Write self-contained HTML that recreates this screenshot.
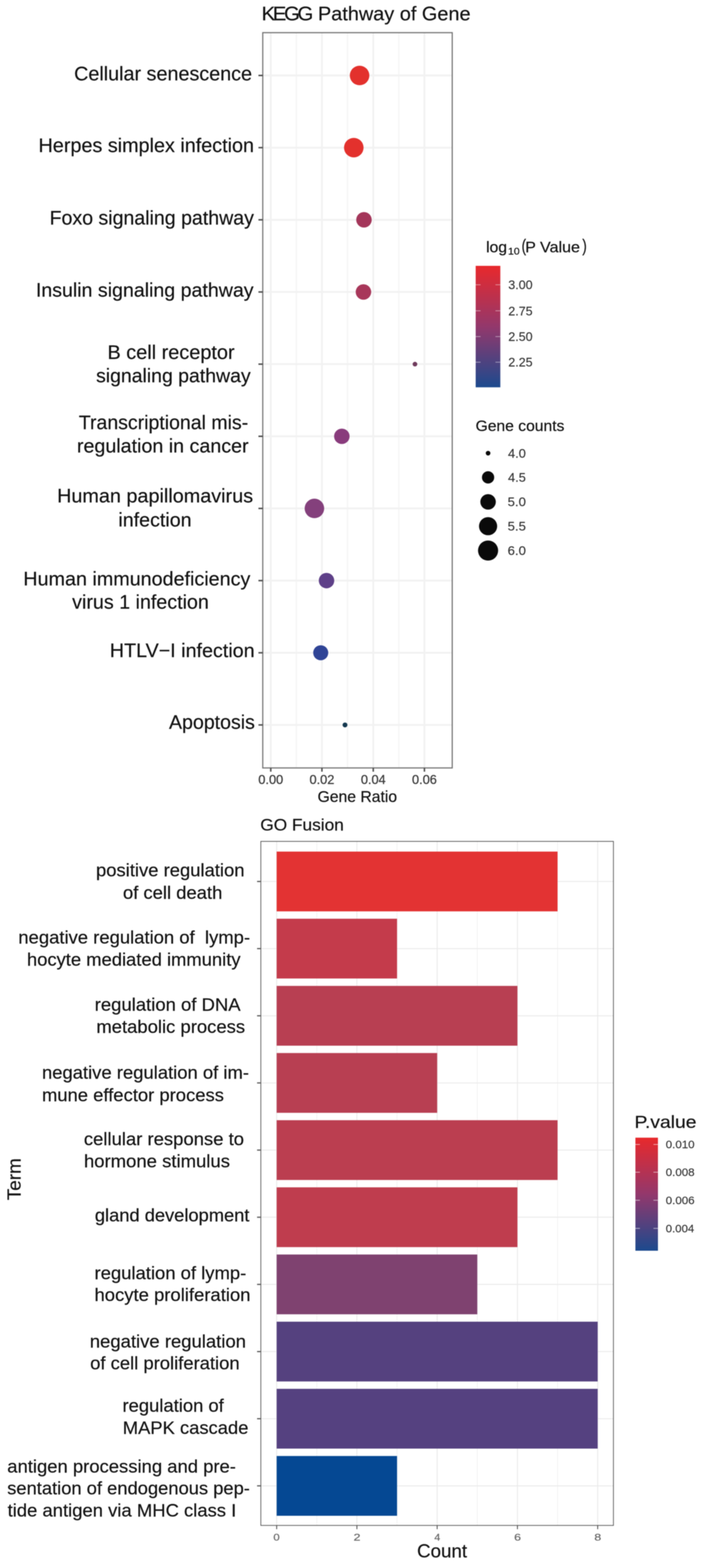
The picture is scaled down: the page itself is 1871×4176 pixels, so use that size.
<!DOCTYPE html>
<html lang="en">
<head>
<meta charset="utf-8">
<title>KEGG Pathway of Gene / GO Fusion</title>
<style>
html, body { margin: 0; padding: 0; background: #ffffff; }
body { width: 1871px; height: 4176px; overflow: hidden; }
svg { display: block; font-family: "Liberation Sans", sans-serif; filter: blur(0.85px); }
svg text { white-space: pre; stroke: #121212; stroke-width: 0.45px; paint-order: stroke; }
</style>
</head>
<body>
<svg width="1871" height="4176" viewBox="0 0 1871 4176">
<rect x="0" y="0" width="1871" height="4176" fill="#ffffff"/>
<g id="kegg">
<rect x="699.3" y="87.0" width="504.3" height="1958.2" fill="#fff"/>
<line x1="788.7" y1="87.0" x2="788.7" y2="2045.2" stroke="#f5f5f5" stroke-width="3.6"/>
<line x1="925.1" y1="87.0" x2="925.1" y2="2045.2" stroke="#f5f5f5" stroke-width="3.6"/>
<line x1="1061.5" y1="87.0" x2="1061.5" y2="2045.2" stroke="#f5f5f5" stroke-width="3.6"/>
<line x1="720.6" y1="87.0" x2="720.6" y2="2045.2" stroke="#f2f2f2" stroke-width="5"/>
<line x1="856.8" y1="87.0" x2="856.8" y2="2045.2" stroke="#f2f2f2" stroke-width="5"/>
<line x1="993.4" y1="87.0" x2="993.4" y2="2045.2" stroke="#f2f2f2" stroke-width="5"/>
<line x1="1129.6" y1="87.0" x2="1129.6" y2="2045.2" stroke="#f2f2f2" stroke-width="5"/>
<line x1="699.3" y1="201.0" x2="1203.6" y2="201.0" stroke="#f2f2f2" stroke-width="5"/>
<line x1="699.3" y1="393.2" x2="1203.6" y2="393.2" stroke="#f2f2f2" stroke-width="5"/>
<line x1="699.3" y1="585.4" x2="1203.6" y2="585.4" stroke="#f2f2f2" stroke-width="5"/>
<line x1="699.3" y1="777.6" x2="1203.6" y2="777.6" stroke="#f2f2f2" stroke-width="5"/>
<line x1="699.3" y1="969.8" x2="1203.6" y2="969.8" stroke="#f2f2f2" stroke-width="5"/>
<line x1="699.3" y1="1162.0" x2="1203.6" y2="1162.0" stroke="#f2f2f2" stroke-width="5"/>
<line x1="699.3" y1="1354.1" x2="1203.6" y2="1354.1" stroke="#f2f2f2" stroke-width="5"/>
<line x1="699.3" y1="1546.3" x2="1203.6" y2="1546.3" stroke="#f2f2f2" stroke-width="5"/>
<line x1="699.3" y1="1738.5" x2="1203.6" y2="1738.5" stroke="#f2f2f2" stroke-width="5"/>
<line x1="699.3" y1="1930.7" x2="1203.6" y2="1930.7" stroke="#f2f2f2" stroke-width="5"/>
<circle cx="957.0" cy="201.0" r="26.0" fill="#e3312d"/>
<circle cx="941.6" cy="393.2" r="26.0" fill="#e3312d"/>
<circle cx="968.7" cy="585.4" r="20.6" fill="#a4365a"/>
<circle cx="967.3" cy="777.6" r="20.6" fill="#a8375a"/>
<circle cx="1104.4" cy="969.8" r="6.2" fill="#6f3a5c"/>
<circle cx="909.8" cy="1162.0" r="20.6" fill="#893b7c"/>
<circle cx="836.8" cy="1354.1" r="26.0" fill="#84407c"/>
<circle cx="869.0" cy="1546.3" r="20.6" fill="#5e4088"/>
<circle cx="853.6" cy="1738.5" r="20.0" fill="#2f4496"/>
<circle cx="918.2" cy="1930.7" r="6.5" fill="#14384f"/>
<rect x="699.3" y="87.0" width="504.3" height="1958.2" fill="none" stroke="#757575" stroke-width="3.1"/>
<line x1="687.8" y1="201.0" x2="699.3" y2="201.0" stroke="#4f4f4f" stroke-width="4"/>
<line x1="687.8" y1="393.2" x2="699.3" y2="393.2" stroke="#4f4f4f" stroke-width="4"/>
<line x1="687.8" y1="585.4" x2="699.3" y2="585.4" stroke="#4f4f4f" stroke-width="4"/>
<line x1="687.8" y1="777.6" x2="699.3" y2="777.6" stroke="#4f4f4f" stroke-width="4"/>
<line x1="687.8" y1="969.8" x2="699.3" y2="969.8" stroke="#4f4f4f" stroke-width="4"/>
<line x1="687.8" y1="1162.0" x2="699.3" y2="1162.0" stroke="#4f4f4f" stroke-width="4"/>
<line x1="687.8" y1="1354.1" x2="699.3" y2="1354.1" stroke="#4f4f4f" stroke-width="4"/>
<line x1="687.8" y1="1546.3" x2="699.3" y2="1546.3" stroke="#4f4f4f" stroke-width="4"/>
<line x1="687.8" y1="1738.5" x2="699.3" y2="1738.5" stroke="#4f4f4f" stroke-width="4"/>
<line x1="687.8" y1="1930.7" x2="699.3" y2="1930.7" stroke="#4f4f4f" stroke-width="4"/>
<line x1="720.6" y1="2045.2" x2="720.6" y2="2055.2" stroke="#4f4f4f" stroke-width="4"/>
<line x1="856.8" y1="2045.2" x2="856.8" y2="2055.2" stroke="#4f4f4f" stroke-width="4"/>
<line x1="993.4" y1="2045.2" x2="993.4" y2="2055.2" stroke="#4f4f4f" stroke-width="4"/>
<line x1="1129.6" y1="2045.2" x2="1129.6" y2="2055.2" stroke="#4f4f4f" stroke-width="4"/>
<text transform="translate(720.60,2087.6) scale(0.9582,1)" font-size="35.4" text-anchor="middle" fill="#3c3c3c" style="stroke:#3c3c3c;stroke-width:0.6px">0.00</text>
<text transform="translate(856.80,2087.6) scale(0.9582,1)" font-size="35.4" text-anchor="middle" fill="#3c3c3c" style="stroke:#3c3c3c;stroke-width:0.6px">0.02</text>
<text transform="translate(993.40,2087.6) scale(0.9582,1)" font-size="35.4" text-anchor="middle" fill="#3c3c3c" style="stroke:#3c3c3c;stroke-width:0.6px">0.04</text>
<text transform="translate(1129.60,2087.6) scale(0.9582,1)" font-size="35.4" text-anchor="middle" fill="#3c3c3c" style="stroke:#3c3c3c;stroke-width:0.6px">0.06</text>
<text transform="translate(845.25,2135.60) scale(0.9729,1)" font-size="43.0" fill="#121212" >Gene Ratio</text>
<text transform="translate(696.13,54.00) scale(1.0419,1)" font-size="52.0" fill="#121212" letter-spacing="-6">KEGG</text>
<text transform="translate(846.23,54.00) scale(1.0181,1)" font-size="52.0" fill="#121212" >Pathway of Gene</text>
<text transform="translate(197.20,213.80) scale(1.0000,1)" font-size="52.6" fill="#121212" >Cellular senescence</text>
<text transform="translate(102.60,405.30) scale(1.0011,1)" font-size="52.6" fill="#121212" >Herpes simplex infection</text>
<text transform="translate(131.94,597.60) scale(0.9894,1)" font-size="52.6" fill="#121212" >Foxo signaling pathway</text>
<text transform="translate(95.45,789.70) scale(0.9909,1)" font-size="52.6" fill="#121212" >Insulin signaling pathway</text>
<text transform="translate(285.97,955.80) scale(1.0069,1)" font-size="52.6" fill="#121212" >B cell receptor</text>
<text transform="translate(255.63,1018.10) scale(0.9841,1)" font-size="52.6" fill="#121212" >signaling pathway</text>
<text transform="translate(209.81,1142.90) scale(0.9863,1)" font-size="52.6" fill="#121212" >Transcriptional mis-</text>
<text transform="translate(204.71,1205.30) scale(0.9956,1)" font-size="52.6" fill="#121212" >regulation in cancer</text>
<text transform="translate(151.89,1338.30) scale(1.0029,1)" font-size="52.6" fill="#121212" >Human papillomavirus</text>
<text transform="translate(315.12,1402.20) scale(0.9942,1)" font-size="52.6" fill="#121212" >infection</text>
<text transform="translate(62.10,1558.60) scale(0.9988,1)" font-size="52.6" fill="#121212" >Human immunodeficiency</text>
<text transform="translate(192.10,1621.00) scale(0.9953,1)" font-size="52.6" fill="#121212" >virus 1 infection</text>
<text transform="translate(292.31,1749.60) scale(0.9976,1)" font-size="52.6" fill="#121212" >HTLV−I infection</text>
<text transform="translate(449.80,1941.10) scale(0.9895,1)" font-size="52.6" fill="#121212" >Apoptosis</text>
<defs><linearGradient id="g1" x1="0" y1="0" x2="0" y2="1"><stop offset="0" stop-color="#e8292c"/><stop offset="0.5" stop-color="#93386c"/><stop offset="1" stop-color="#1c4a8e"/></linearGradient><linearGradient id="g2" x1="0" y1="0" x2="0" y2="1"><stop offset="0" stop-color="#e8292c"/><stop offset="0.5" stop-color="#93386c"/><stop offset="1" stop-color="#1c4a8e"/></linearGradient></defs>
<text transform="translate(1293.81,671.50) scale(1.0292,1)" font-size="40.5" fill="#121212" >log</text>
<text transform="translate(1351.92,678.30) scale(1.0920,1)" font-size="25.5" fill="#121212" >10</text>
<text transform="translate(1388.22,670.00) scale(0.7583,1)" font-size="47.0" fill="#121212" >(</text>
<text transform="translate(1397.73,671.50) scale(1.0556,1)" font-size="40.5" fill="#121212" >P Value</text>
<text transform="translate(1549.84,670.00) scale(0.7583,1)" font-size="47.0" fill="#121212" >)</text>
<rect x="1266.0" y="708.0" width="65.6" height="323.5" fill="url(#g1)"/>
<line x1="1266.0" y1="758.4" x2="1279.0" y2="758.4" stroke="#fff" stroke-opacity="0.5" stroke-width="2"/>
<line x1="1318.6" y1="758.4" x2="1331.6" y2="758.4" stroke="#fff" stroke-opacity="0.5" stroke-width="2"/>
<text transform="translate(1352.82,770.20) scale(0.9844,1)" font-size="33.8" fill="#333333" style="stroke:#333333;stroke-width:0.3px">3.00</text>
<line x1="1266.0" y1="827.7" x2="1279.0" y2="827.7" stroke="#fff" stroke-opacity="0.5" stroke-width="2"/>
<line x1="1318.6" y1="827.7" x2="1331.6" y2="827.7" stroke="#fff" stroke-opacity="0.5" stroke-width="2"/>
<text transform="translate(1352.82,839.50) scale(0.9844,1)" font-size="33.8" fill="#333333" style="stroke:#333333;stroke-width:0.3px">2.75</text>
<line x1="1266.0" y1="896.4" x2="1279.0" y2="896.4" stroke="#fff" stroke-opacity="0.5" stroke-width="2"/>
<line x1="1318.6" y1="896.4" x2="1331.6" y2="896.4" stroke="#fff" stroke-opacity="0.5" stroke-width="2"/>
<text transform="translate(1352.82,908.20) scale(0.9844,1)" font-size="33.8" fill="#333333" style="stroke:#333333;stroke-width:0.3px">2.50</text>
<line x1="1266.0" y1="964.6" x2="1279.0" y2="964.6" stroke="#fff" stroke-opacity="0.5" stroke-width="2"/>
<line x1="1318.6" y1="964.6" x2="1331.6" y2="964.6" stroke="#fff" stroke-opacity="0.5" stroke-width="2"/>
<text transform="translate(1352.82,976.40) scale(0.9844,1)" font-size="33.8" fill="#333333" style="stroke:#333333;stroke-width:0.3px">2.25</text>
<text transform="translate(1265.79,1148.00) scale(1.0043,1)" font-size="41.5" fill="#121212" >Gene counts</text>
<circle cx="1299" cy="1207.0" r="6.2" fill="#0a0a0a"/>
<text transform="translate(1351.99,1218.80) scale(1.0133,1)" font-size="33.8" fill="#333333" style="stroke:#333333;stroke-width:0.3px">4.0</text>
<circle cx="1299" cy="1271.4" r="16.3" fill="#0a0a0a"/>
<text transform="translate(1351.99,1283.20) scale(1.0133,1)" font-size="33.8" fill="#333333" style="stroke:#333333;stroke-width:0.3px">4.5</text>
<circle cx="1299" cy="1336.6" r="20.6" fill="#0a0a0a"/>
<text transform="translate(1350.93,1348.40) scale(1.0364,1)" font-size="33.8" fill="#333333" style="stroke:#333333;stroke-width:0.3px">5.0</text>
<circle cx="1299" cy="1401.4" r="24.2" fill="#0a0a0a"/>
<text transform="translate(1350.93,1413.20) scale(1.0364,1)" font-size="33.8" fill="#333333" style="stroke:#333333;stroke-width:0.3px">5.5</text>
<circle cx="1299" cy="1466.2" r="26.8" fill="#0a0a0a"/>
<text transform="translate(1350.93,1478.00) scale(1.0364,1)" font-size="33.8" fill="#333333" style="stroke:#333333;stroke-width:0.3px">6.0</text>
</g>
<g id="go">
<rect x="694.2" y="2240.8" width="938.4" height="1821.8" fill="#fff"/>
<line x1="843.1" y1="2240.8" x2="843.1" y2="4062.6" stroke="#efefef" stroke-width="1.6"/>
<line x1="1056.7" y1="2240.8" x2="1056.7" y2="4062.6" stroke="#efefef" stroke-width="1.6"/>
<line x1="1270.3" y1="2240.8" x2="1270.3" y2="4062.6" stroke="#efefef" stroke-width="1.6"/>
<line x1="1483.9" y1="2240.8" x2="1483.9" y2="4062.6" stroke="#efefef" stroke-width="1.6"/>
<line x1="736.3" y1="2240.8" x2="736.3" y2="4062.6" stroke="#eaeaea" stroke-width="2.4"/>
<line x1="949.9" y1="2240.8" x2="949.9" y2="4062.6" stroke="#eaeaea" stroke-width="2.4"/>
<line x1="1163.5" y1="2240.8" x2="1163.5" y2="4062.6" stroke="#eaeaea" stroke-width="2.4"/>
<line x1="1377.1" y1="2240.8" x2="1377.1" y2="4062.6" stroke="#eaeaea" stroke-width="2.4"/>
<line x1="1590.7" y1="2240.8" x2="1590.7" y2="4062.6" stroke="#eaeaea" stroke-width="2.4"/>
<line x1="694.2" y1="2347.6" x2="1632.6" y2="2347.6" stroke="#eaeaea" stroke-width="2.4"/>
<line x1="694.2" y1="2526.4" x2="1632.6" y2="2526.4" stroke="#eaeaea" stroke-width="2.4"/>
<line x1="694.2" y1="2705.3" x2="1632.6" y2="2705.3" stroke="#eaeaea" stroke-width="2.4"/>
<line x1="694.2" y1="2884.1" x2="1632.6" y2="2884.1" stroke="#eaeaea" stroke-width="2.4"/>
<line x1="694.2" y1="3063.0" x2="1632.6" y2="3063.0" stroke="#eaeaea" stroke-width="2.4"/>
<line x1="694.2" y1="3241.8" x2="1632.6" y2="3241.8" stroke="#eaeaea" stroke-width="2.4"/>
<line x1="694.2" y1="3420.7" x2="1632.6" y2="3420.7" stroke="#eaeaea" stroke-width="2.4"/>
<line x1="694.2" y1="3599.6" x2="1632.6" y2="3599.6" stroke="#eaeaea" stroke-width="2.4"/>
<line x1="694.2" y1="3778.4" x2="1632.6" y2="3778.4" stroke="#eaeaea" stroke-width="2.4"/>
<line x1="694.2" y1="3957.2" x2="1632.6" y2="3957.2" stroke="#eaeaea" stroke-width="2.4"/>
<rect x="736.3" y="2268.0" width="747.6" height="159.2" fill="#e33333"/>
<rect x="736.3" y="2446.8" width="320.4" height="159.2" fill="#c43b4b"/>
<rect x="736.3" y="2625.7" width="640.8" height="159.2" fill="#b83f52"/>
<rect x="736.3" y="2804.5" width="427.2" height="159.2" fill="#b83f52"/>
<rect x="736.3" y="2983.4" width="747.6" height="159.2" fill="#bb3e50"/>
<rect x="736.3" y="3162.2" width="640.8" height="159.2" fill="#bf3d4e"/>
<rect x="736.3" y="3341.1" width="534.0" height="159.2" fill="#7f4270"/>
<rect x="736.3" y="3520.0" width="854.4" height="159.2" fill="#55417f"/>
<rect x="736.3" y="3698.8" width="854.4" height="159.2" fill="#554180"/>
<rect x="736.3" y="3877.7" width="320.4" height="159.2" fill="#054893"/>
<rect x="694.2" y="2240.8" width="938.4" height="1821.8" fill="none" stroke="#4c4c4c" stroke-width="1.9"/>
<line x1="684.2" y1="2347.6" x2="694.2" y2="2347.6" stroke="#5a5a5a" stroke-width="3.2"/>
<line x1="684.2" y1="2526.4" x2="694.2" y2="2526.4" stroke="#5a5a5a" stroke-width="3.2"/>
<line x1="684.2" y1="2705.3" x2="694.2" y2="2705.3" stroke="#5a5a5a" stroke-width="3.2"/>
<line x1="684.2" y1="2884.1" x2="694.2" y2="2884.1" stroke="#5a5a5a" stroke-width="3.2"/>
<line x1="684.2" y1="3063.0" x2="694.2" y2="3063.0" stroke="#5a5a5a" stroke-width="3.2"/>
<line x1="684.2" y1="3241.8" x2="694.2" y2="3241.8" stroke="#5a5a5a" stroke-width="3.2"/>
<line x1="684.2" y1="3420.7" x2="694.2" y2="3420.7" stroke="#5a5a5a" stroke-width="3.2"/>
<line x1="684.2" y1="3599.6" x2="694.2" y2="3599.6" stroke="#5a5a5a" stroke-width="3.2"/>
<line x1="684.2" y1="3778.4" x2="694.2" y2="3778.4" stroke="#5a5a5a" stroke-width="3.2"/>
<line x1="684.2" y1="3957.2" x2="694.2" y2="3957.2" stroke="#5a5a5a" stroke-width="3.2"/>
<line x1="736.3" y1="4062.6" x2="736.3" y2="4072.6" stroke="#4f4f4f" stroke-width="2.4"/>
<text transform="translate(727.53,4103.00) scale(1.1692,1)" font-size="26.0" fill="#666666" style="stroke:#666666;stroke-width:0.4px">0</text>
<line x1="949.9" y1="4062.6" x2="949.9" y2="4072.6" stroke="#4f4f4f" stroke-width="2.4"/>
<text transform="translate(941.03,4103.00) scale(1.2667,1)" font-size="26.0" fill="#666666" style="stroke:#666666;stroke-width:0.4px">2</text>
<line x1="1163.5" y1="4062.6" x2="1163.5" y2="4072.6" stroke="#4f4f4f" stroke-width="2.4"/>
<text transform="translate(1155.90,4103.00) scale(1.0857,1)" font-size="26.0" fill="#666666" style="stroke:#666666;stroke-width:0.4px">4</text>
<line x1="1377.1" y1="4062.6" x2="1377.1" y2="4072.6" stroke="#4f4f4f" stroke-width="2.4"/>
<text transform="translate(1368.23,4103.00) scale(1.2667,1)" font-size="26.0" fill="#666666" style="stroke:#666666;stroke-width:0.4px">6</text>
<line x1="1590.7" y1="4062.6" x2="1590.7" y2="4072.6" stroke="#4f4f4f" stroke-width="2.4"/>
<text transform="translate(1581.83,4103.00) scale(1.2667,1)" font-size="26.0" fill="#666666" style="stroke:#666666;stroke-width:0.4px">8</text>
<text transform="translate(1109.98,4148.00) scale(1.0078,1)" font-size="49.5" fill="#121212" >Count</text>
<text transform="translate(692.71,2212.00) scale(1.0452,1)" font-size="44.0" fill="#121212" >GO Fusion</text>
<text transform="translate(55.20,3196.41) rotate(-90) scale(1.0132,1)" font-size="49.7" fill="#121212" >Term</text>
<text transform="translate(255.50,2334.30) scale(1.0348,1)" font-size="47.4" fill="#121212" >positive regulation</text>
<text transform="translate(327.23,2393.60) scale(1.0351,1)" font-size="47.4" fill="#121212" >of cell death</text>
<text transform="translate(48.79,2512.60) scale(1.0358,1)" font-size="47.4" fill="#121212" >negative regulation of  lymp-</text>
<text transform="translate(71.70,2571.90) scale(1.0329,1)" font-size="47.4" fill="#121212" >hocyte mediated immunity</text>
<text transform="translate(252.09,2691.80) scale(1.0383,1)" font-size="47.4" fill="#121212" >regulation of DNA</text>
<text transform="translate(256.39,2750.80) scale(1.0369,1)" font-size="47.4" fill="#121212" >metabolic process</text>
<text transform="translate(111.69,2873.40) scale(1.0353,1)" font-size="47.4" fill="#121212" >negative regulation of im-</text>
<text transform="translate(111.70,2932.60) scale(1.0348,1)" font-size="47.4" fill="#121212" >mune effector process</text>
<text transform="translate(223.13,3049.50) scale(1.0373,1)" font-size="47.4" fill="#121212" >cellular response to</text>
<text transform="translate(223.38,3108.60) scale(1.0393,1)" font-size="47.4" fill="#121212" >hormone stimulus</text>
<text transform="translate(252.55,3253.40) scale(1.0271,1)" font-size="47.4" fill="#121212" >gland development</text>
<text transform="translate(251.59,3407.10) scale(1.0361,1)" font-size="47.4" fill="#121212" >regulation of lymp-</text>
<text transform="translate(251.49,3465.40) scale(1.0371,1)" font-size="47.4" fill="#121212" >hocyte proliferation</text>
<text transform="translate(238.99,3588.80) scale(1.0380,1)" font-size="47.4" fill="#121212" >negative regulation</text>
<text transform="translate(240.03,3647.30) scale(1.0342,1)" font-size="47.4" fill="#121212" >of cell proliferation</text>
<text transform="translate(326.00,3760.20) scale(1.0341,1)" font-size="47.4" fill="#121212" >regulation of</text>
<text transform="translate(326.67,3818.90) scale(1.0327,1)" font-size="47.4" fill="#121212" >MAPK cascade</text>
<text transform="translate(19.33,3921.80) scale(1.0360,1)" font-size="47.4" fill="#121212" >antigen processing and pre-</text>
<text transform="translate(19.14,3980.20) scale(1.0300,1)" font-size="47.4" fill="#121212" >sentation of endogenous pep-</text>
<text transform="translate(20.16,4039.10) scale(1.0364,1)" font-size="47.4" fill="#121212" >tide antigen via MHC class I</text>
<text transform="translate(1688.82,3004.00) scale(1.0938,1)" font-size="47.0" fill="#121212" >P.value</text>
<rect x="1691.1" y="3029.9" width="60.0" height="301.1" fill="url(#g2)"/>
<line x1="1691.1" y1="3048.0" x2="1703.1" y2="3048.0" stroke="#fff" stroke-opacity="0.62" stroke-width="2"/>
<line x1="1739.1" y1="3048.0" x2="1751.1" y2="3048.0" stroke="#fff" stroke-opacity="0.62" stroke-width="2"/>
<text transform="translate(1771.78,3058.00) scale(1.0247,1)" font-size="30.0" fill="#333333" style="stroke:#333333;stroke-width:0.3px">0.010</text>
<line x1="1691.1" y1="3121.9" x2="1703.1" y2="3121.9" stroke="#fff" stroke-opacity="0.62" stroke-width="2"/>
<line x1="1739.1" y1="3121.9" x2="1751.1" y2="3121.9" stroke="#fff" stroke-opacity="0.62" stroke-width="2"/>
<text transform="translate(1771.78,3131.90) scale(1.0247,1)" font-size="30.0" fill="#333333" style="stroke:#333333;stroke-width:0.3px">0.008</text>
<line x1="1691.1" y1="3196.6" x2="1703.1" y2="3196.6" stroke="#fff" stroke-opacity="0.62" stroke-width="2"/>
<line x1="1739.1" y1="3196.6" x2="1751.1" y2="3196.6" stroke="#fff" stroke-opacity="0.62" stroke-width="2"/>
<text transform="translate(1771.78,3206.60) scale(1.0247,1)" font-size="30.0" fill="#333333" style="stroke:#333333;stroke-width:0.3px">0.006</text>
<line x1="1691.1" y1="3271.5" x2="1703.1" y2="3271.5" stroke="#fff" stroke-opacity="0.62" stroke-width="2"/>
<line x1="1739.1" y1="3271.5" x2="1751.1" y2="3271.5" stroke="#fff" stroke-opacity="0.62" stroke-width="2"/>
<text transform="translate(1771.79,3281.50) scale(1.0108,1)" font-size="30.0" fill="#333333" style="stroke:#333333;stroke-width:0.3px">0.004</text>
</g>
</svg>
</body>
</html>
